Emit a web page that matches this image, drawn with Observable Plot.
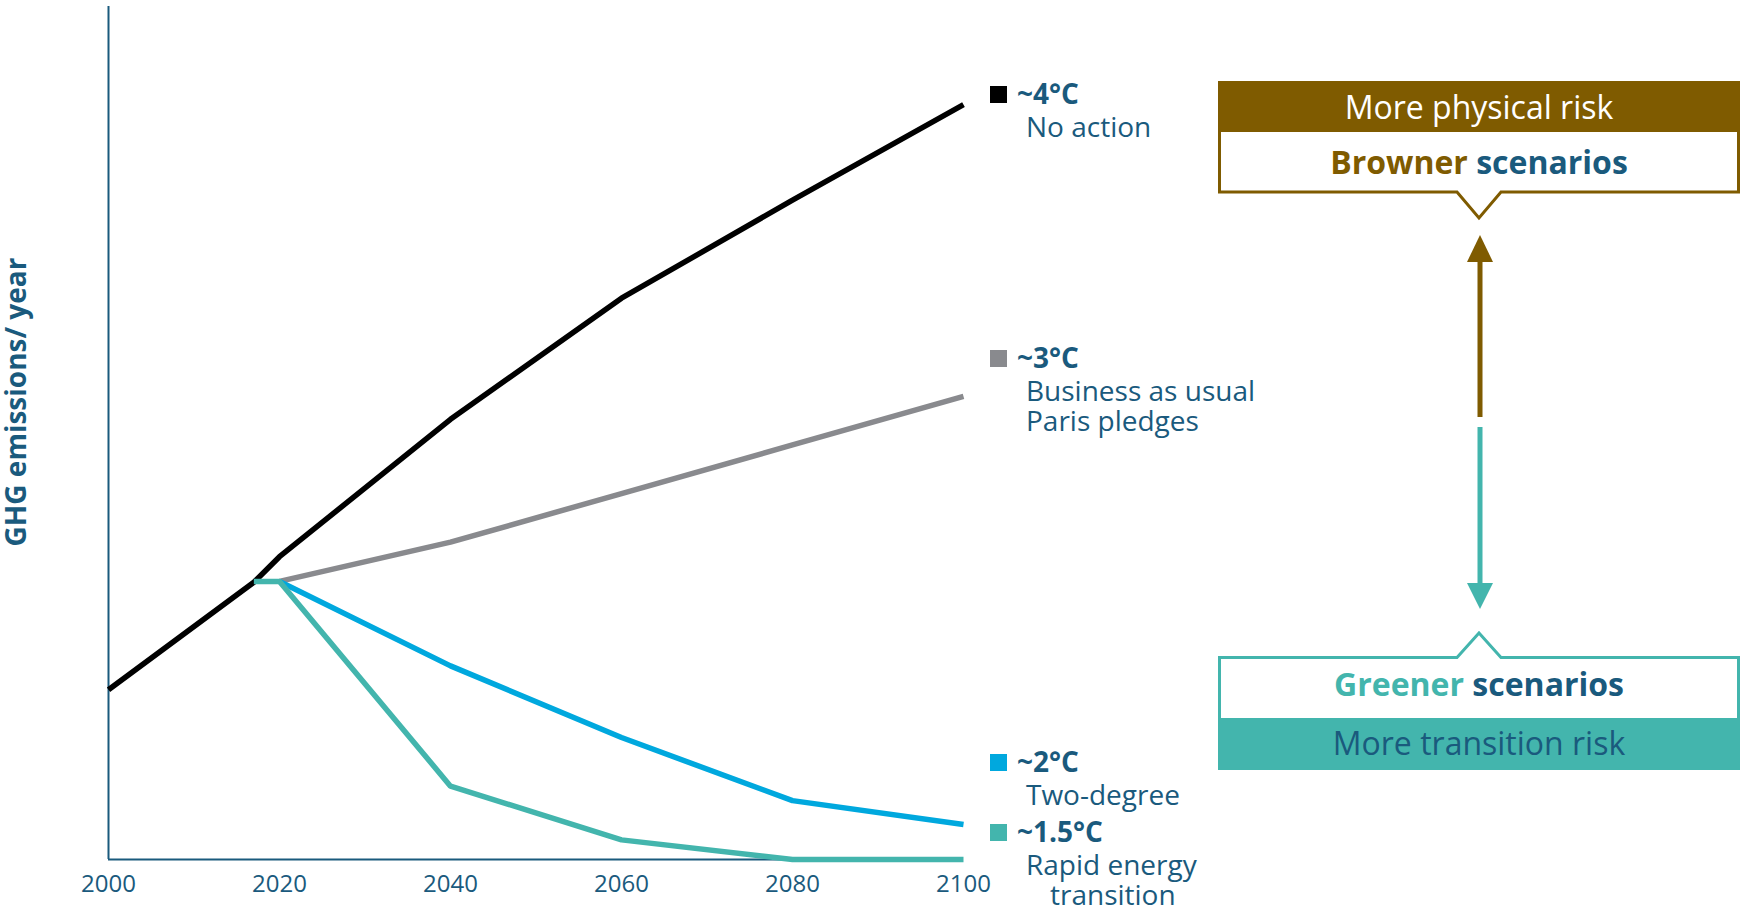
<!DOCTYPE html>
<html>
<head>
<meta charset="utf-8">
<script src="https://cdn.jsdelivr.net/npm/d3@7"></script>
<script src="https://cdn.jsdelivr.net/npm/@observablehq/plot@0.6"></script>
<style>
  html, body { margin: 0; padding: 0; background: #fff; }
  #chart { width: 1743px; height: 909px; }
  svg text { font-family: "Open Sans", sans-serif; }
</style>
</head>
<body>
<div id="chart"></div>
<script>
// Emissions pathways (index of annual GHG emissions, 0 = net zero)
const noActionYears = [2000, 2017, 2020, 2040, 2060, 2080, 2100];
const noActionValues = [19.9, 32.5, 35.5, 51.6, 65.8, 77.3, 88.5];

const businessYears = [2020, 2040, 2060, 2080, 2100];
const businessValues = [32.6, 37.2, 42.9, 48.6, 54.3];

const twoDegreeYears = [2020, 2040, 2060, 2080, 2100];
const twoDegreeValues = [32.6, 22.7, 14.3, 6.9, 4.1];

const rapidYears = [2017, 2020, 2040, 2060, 2080, 2100];
const rapidValues = [32.6, 32.6, 8.6, 2.3, 0, 0];

const xTickYears = [2000, 2020, 2040, 2060, 2080, 2100];

// Scenario legend
const scenarioKeys = ["noAction", "business", "twoDegree", "rapid"];
const scenarioTemps = ["~4°C", "~3°C", "~2°C", "~1.5°C"];
const scenarioNotes = [["No action"], ["Business as usual", "Paris pledges"], ["Two-degree"], ["Rapid energy", "transition"]];
const scenarioColors = ["#000000", "#898a8e", "#00a8de", "#43b5ad"];

const yAxisTitle = "GHG emissions/ year";
const brownerHeader = "More physical risk";
const brownerWords = ["Browner", " scenarios"];
const greenerWords = ["Greener", " scenarios"];
const greenerFooter = "More transition risk";

const ink = "#1a5a7d";
const brown = "#7f5b00";
const teal = "#43b5ad";

const rows = [
  ...noActionYears.map((year, i) => ({scenario: "noAction", year, value: noActionValues[i]})),
  ...businessYears.map((year, i) => ({scenario: "business", year, value: businessValues[i]})),
  ...twoDegreeYears.map((year, i) => ({scenario: "twoDegree", year, value: twoDegreeValues[i]})),
  ...rapidYears.map((year, i) => ({scenario: "rapid", year, value: rapidValues[i]}))
];

const W = 1743, H = 909;
const svg = Plot.plot({
  width: W,
  height: H,
  marginLeft: 108,
  marginRight: 780,
  marginTop: 6,
  marginBottom: 50,
  style: {fontFamily: "Open Sans", color: ink, background: "#fff", overflow: "visible"},
  x: {domain: [2000, 2100]},
  y: {domain: [0, 100], axis: null},
  color: {domain: scenarioKeys, range: scenarioColors},
  marks: [
    Plot.axisX({ticks: xTickYears, tickFormat: d => String(d), tickSize: 0, tickPadding: 15, fontSize: 24, fill: ink, label: null}),
    Plot.ruleX([2000], {y1: 0, y2: 100, stroke: ink, strokeWidth: 2}),
    Plot.ruleY([0], {x1: 2000, x2: 2100, stroke: ink, strokeWidth: 2}),
    Plot.line(rows, {x: "year", y: "value", z: "scenario", stroke: "scenario", strokeWidth: 5.5, strokeLinejoin: "miter", strokeLinecap: "butt"})
  ]
});
document.getElementById("chart").appendChild(svg);

const root = d3.select(svg);

// Y-axis title
root.append("text")
  .attr("transform", "translate(26,402) rotate(-90)")
  .attr("text-anchor", "middle")
  .attr("font-size", 28)
  .attr("font-weight", 700)
  .attr("fill", ink)
  .text(yAxisTitle);

// Scenario legend beside the line ends
const legendBaselines = [104, 368, 772, 842];
const legend = root.append("g").attr("text-anchor", "start");
scenarioKeys.forEach((key, i) => {
  const base = legendBaselines[i];
  legend.append("rect")
    .attr("x", 990).attr("y", base - 18).attr("width", 17).attr("height", 17)
    .attr("fill", scenarioColors[i]);
  legend.append("text")
    .attr("x", 1017).attr("y", base)
    .attr("text-anchor", "start")
    .attr("font-size", 28).attr("font-weight", 700).attr("fill", ink)
    .text(scenarioTemps[i]);
  scenarioNotes[i].forEach((line, j) => {
    legend.append("text")
      .attr("x", key === "rapid" && j === 1 ? 1050 : 1026)
      .attr("y", base + 33 + j * 30)
      .attr("text-anchor", "start")
      .attr("font-size", 28).attr("fill", ink)
      .text(line);
  });
});

// Risk panel: browner box, arrows, greener box
const panel = root.append("g");
const L = 1219.5, R = 1738.5, CX = 1479;

panel.append("path")
  .attr("d", `M${L},82.5H${R}V192H${CX + 22}L${CX},218L${CX - 22},192H${L}Z`)
  .attr("fill", "#fff").attr("stroke", brown).attr("stroke-width", 3);
panel.append("rect")
  .attr("x", 1218).attr("y", 81).attr("width", 522).attr("height", 51)
  .attr("fill", brown);
panel.append("text")
  .attr("x", CX).attr("y", 119).attr("text-anchor", "middle")
  .attr("font-size", 32).attr("fill", "#fff")
  .text(brownerHeader);
const bt = panel.append("text")
  .attr("x", CX).attr("y", 174).attr("text-anchor", "middle")
  .attr("font-size", 32).attr("font-weight", 700);
bt.append("tspan").attr("fill", brown).text(brownerWords[0]);
bt.append("tspan").attr("fill", ink).text(brownerWords[1]);

// Up arrow (brown)
panel.append("line")
  .attr("x1", 1480).attr("x2", 1480).attr("y1", 417).attr("y2", 258)
  .attr("stroke", brown).attr("stroke-width", 5);
panel.append("path")
  .attr("d", "M1467,262L1493,262L1480,235Z").attr("fill", brown);

// Down arrow (teal)
panel.append("line")
  .attr("x1", 1480).attr("x2", 1480).attr("y1", 427).attr("y2", 586)
  .attr("stroke", teal).attr("stroke-width", 5);
panel.append("path")
  .attr("d", "M1467,583L1493,583L1480,609Z").attr("fill", teal);

panel.append("path")
  .attr("d", `M${L},657.5H${CX - 22}L${CX},633L${CX + 22},657.5H${R}V768H${L}Z`)
  .attr("fill", "#fff").attr("stroke", teal).attr("stroke-width", 3);
panel.append("rect")
  .attr("x", 1218).attr("y", 718).attr("width", 522).attr("height", 52)
  .attr("fill", teal);
const gt = panel.append("text")
  .attr("x", CX).attr("y", 696).attr("text-anchor", "middle")
  .attr("font-size", 32).attr("font-weight", 700);
gt.append("tspan").attr("fill", teal).text(greenerWords[0]);
gt.append("tspan").attr("fill", ink).text(greenerWords[1]);
panel.append("text")
  .attr("x", CX).attr("y", 755).attr("text-anchor", "middle")
  .attr("font-size", 32).attr("fill", ink)
  .text(greenerFooter);
</script>
</body>
</html>
